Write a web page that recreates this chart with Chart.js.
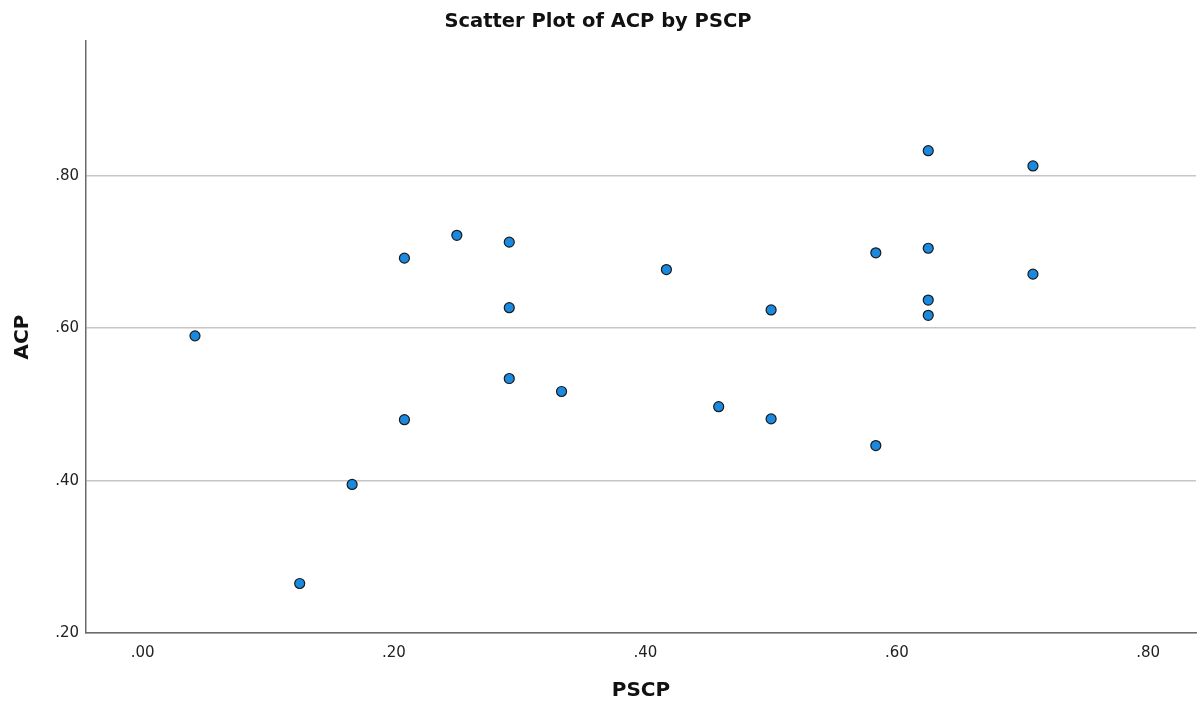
<!DOCTYPE html>
<html>
<head>
<meta charset="utf-8">
<script src="https://cdn.jsdelivr.net/npm/chart.js@4/dist/chart.umd.min.js"></script>
<style>
  body { margin: 0; background: #fff; }
</style>
</head>
<body>
<canvas id="scatterChart" width="1197" height="705"></canvas>
<script>
// values (PSCP on x, ACP on y)
var pscp = [0.0417, 0.125, 0.1667, 0.2083, 0.2083, 0.25, 0.2917, 0.2917, 0.2917, 0.3333, 0.4167,
            0.4583, 0.5, 0.5, 0.5833, 0.5833, 0.625, 0.625, 0.625, 0.625, 0.7083, 0.7083];
var acp = [0.590, 0.265, 0.395, 0.692, 0.480, 0.722, 0.713, 0.627, 0.534, 0.517, 0.677,
           0.497, 0.624, 0.481, 0.699, 0.446, 0.833, 0.705, 0.637, 0.617, 0.813, 0.671];
var xTicks = [0, 0.2, 0.4, 0.6, 0.8];
var yTicks = [0.2, 0.4, 0.6, 0.8];

function fmt(v) {
  return v.toFixed(2).replace(/^0/, "");
}

var points = [];
for (var i = 0; i < pscp.length; i++) {
  points.push({ x: pscp[i], y: acp[i] });
}

Chart.defaults.font.family = "'DejaVu Sans', sans-serif";

var ctx = document.getElementById("scatterChart").getContext("2d");
var chart = new Chart(ctx, {
  type: "scatter",
  data: {
    datasets: [
      {
        label: "ACP",
        data: points,
        backgroundColor: "#1a8ae0",
        borderColor: "#1a1a1a",
        borderWidth: 1.2,
        pointRadius: 5,
        pointHoverRadius: 5,
      },
    ],
  },
  options: {
    responsive: false,
    animation: false,
    devicePixelRatio: 1,
    layout: { autoPadding: false, padding: { left: 0, right: 1, top: 0, bottom: 0 } },
    plugins: {
      legend: { display: false },
      tooltip: { enabled: false },
      title: {
        display: true,
        text: "Scatter Plot of ACP by PSCP",
        color: "#111",
        font: { size: 19.5, weight: "bold" },
        padding: { top: 10, bottom: 7.6 },
      },
    },
    scales: {
      x: {
        type: "linear",
        min: -0.045,
        max: 0.838,
        afterBuildTicks: function (scale) {
          scale.ticks = xTicks.map(function (v) { return { value: v }; });
        },
        afterFit: function (scale) { scale.height = 72; },
        ticks: {
          color: "#222",
          font: { size: 15 },
          padding: 11,
          callback: function (v) { return fmt(v); },
        },
        grid: { display: false, drawTicks: false },
        border: { display: true, color: "#6b6b6b", width: 1.5 },
        title: {
          display: true,
          text: "PSCP",
          color: "#111",
          font: { size: 20, weight: "bold" },
          padding: { top: 0, bottom: 2 },
        },
      },
      y: {
        type: "linear",
        min: 0.2,
        max: 0.977,
        afterBuildTicks: function (scale) {
          scale.ticks = yTicks.map(function (v) { return { value: v }; });
        },
        afterFit: function (scale) { scale.width = 86; },
        ticks: {
          color: "#222",
          font: { size: 15 },
          padding: 7,
          callback: function (v) { return fmt(v); },
        },
        grid: { color: "#c6c6c6", lineWidth: 1.5, drawTicks: false },
        border: { display: true, color: "#6b6b6b", width: 1.5 },
        title: {
          display: true,
          text: "ACP",
          color: "#111",
          font: { size: 20, weight: "bold" },
          padding: { top: 11, bottom: 0 },
        },
      },
    },
  },
});
</script>
</body>
</html>
